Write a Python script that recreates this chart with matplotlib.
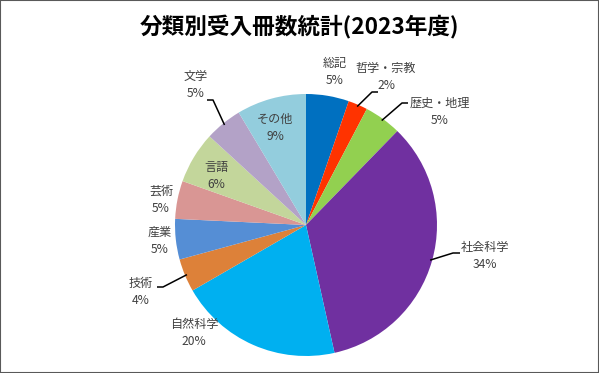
"""Pie chart - acquisitions by classification (2023)."""

import numpy as np
import matplotlib.pyplot as plt
from matplotlib.patches import Rectangle

plt.rcParams['font.family'] = ['Noto Sans CJK JP', 'DejaVu Sans']

###################################################################################################
###################################################################################################

categories = ['総記', '哲学・宗教', '歴史・地理', '社会科学', '自然科学', '技術',
              '産業', '芸術', '言語', '文学', 'その他']
shares = [5.3, 2.4, 4.6, 34.3, 20.2, 4.1, 5.0, 4.7, 6.4, 4.6, 8.6]
pct_labels = ['5%', '2%', '5%', '34%', '20%', '4%', '5%', '5%', '6%', '5%', '9%']

colors = ['#0070C0', '#FF3300', '#92D050', '#7030A0', '#00B0F0', '#DD8139',
          '#558ED5', '#D99694', '#C3D69B', '#B3A2C7', '#93CDDD']

# label centres in pixel coords (x, y from top)
label_pos = [(335, 72), (386, 77), (440, 112), (485, 256), (194, 333), (141, 292),
             (160, 241), (161, 200), (216, 176), (196, 85), (275, 128)]
# leader lines: elbow and end point in pixel coords, None when there is no line
leader = [None, ((372, 92), (378, 92)), ((402, 103), (408, 103)),
          ((453, 253), (460, 253)), None, ((163, 287), (157, 287)),
          None, None, None, ((213, 100), (207, 100)), None]

W, H = 599, 373
cx, cy, rad = 306, 225, 131

fig = plt.figure(figsize=(W / 100, H / 100), dpi=100)
ax = fig.add_axes([0, 0, 1, 1])

wedges, _ = ax.pie(shares, colors=colors, startangle=90, counterclock=False,
                   center=(cx, H - cy), radius=rad, wedgeprops=dict(linewidth=0))
ax.set_xlim(0, W)
ax.set_ylim(0, H)
ax.set_aspect('equal')
ax.axis('off')

for wd, cat, pct, (lx, ly), lead in zip(wedges, categories, pct_labels, label_pos, leader):
    ax.text(lx, H - ly, cat + '\n' + pct, ha='center', va='center', fontsize=8.7,
            color='#404040', linespacing=1.45)
    if lead is not None:
        mid = np.deg2rad((wd.theta1 + wd.theta2) / 2)
        x0 = cx + (rad - 2) * np.cos(mid)
        y0 = H - cy + (rad - 2) * np.sin(mid)
        (ex, ey), (tx, ty) = lead
        ax.plot([x0, ex, tx], [y0, H - ey, H - ty], color='black', lw=1.1,
                solid_capstyle='butt')

fig.text(0.5, 1 - 27 / H, '分類別受入冊数統計(2023年度)', ha='center', va='center',
         fontsize=16.3, fontweight='bold', color='black')

fig.patches.append(Rectangle((0, 0), 1, 1, transform=fig.transFigure, fill=False,
                             edgecolor='#595959', linewidth=1.5))

fig.savefig('out.png', dpi=100)
